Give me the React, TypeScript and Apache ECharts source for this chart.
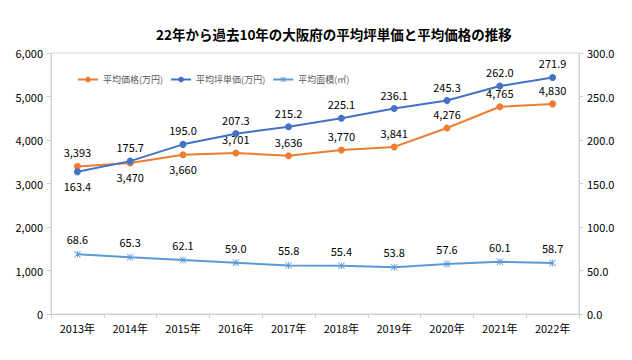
import React, { useEffect, useRef } from "react";
import * as echarts from "echarts";

const categories = ["2013年", "2014年", "2015年", "2016年", "2017年", "2018年", "2019年", "2020年", "2021年", "2022年"];
const avgPrice = [3393, 3470, 3660, 3701, 3636, 3770, 3841, 4276, 4765, 4830];
const avgTsubo = [163.4, 175.7, 195.0, 207.3, 215.2, 225.1, 236.1, 245.3, 262.0, 271.9];
const avgArea = [68.6, 65.3, 62.1, 59.0, 55.8, 55.4, 53.8, 57.6, 60.1, 58.7];
const priceLabelPos = ["top", "bottom", "bottom", "top", "top", "top", "top", "top", "top", "top"];
const tsuboLabelPos = ["bottom", "top", "top", "top", "top", "top", "top", "top", "top", "top"];

const FONT = "'Liberation Sans Narrow', 'Noto Sans CJK JP', sans-serif";
const STAR =
  "path://M4.4,0 L5.6,0 L5.6,10 L4.4,10 Z M0,0.8 L0.8,0 L10,9.2 L9.2,10 Z M9.2,0 L10,0.8 L0.8,10 L0,9.2 Z";

export default function App() {
  const ref = useRef<HTMLDivElement>(null);
  useEffect(() => {
    if (!ref.current) return;
    const chart = echarts.init(ref.current, null, { renderer: "svg" });
    const fmtComma = (v: number) => v.toLocaleString("en-US");
    const labelStyle = { color: "#000", fontSize: 11, fontFamily: FONT };
    chart.setOption({
      animation: false,
      backgroundColor: "#fff",
      title: {
        text: "22年から過去10年の大阪府の平均坪単価と平均価格の推移",
        left: 151,
        top: 22,
        textStyle: { fontSize: 13.5, fontWeight: "bold", color: "#000", fontFamily: "'Noto Sans CJK JP', sans-serif" },
      },
      legend: {
        left: 72,
        top: 70,
        itemWidth: 20,
        itemHeight: 7,
        itemGap: 7,
        textStyle: { fontSize: 9, color: "#595959", fontFamily: "'Noto Sans CJK JP', sans-serif" },
        data: ["平均価格(万円)", "平均坪単価(万円)", "平均面積(㎡)"],
      },
      grid: {
        left: 51,
        right: 53,
        top: 53,
        bottom: 46,
        show: true,
        borderColor: "#d9d9d9",
        borderWidth: 1,
      },
      xAxis: {
        type: "category",
        data: categories,
        boundaryGap: true,
        axisLine: { lineStyle: { color: "#d0d0d0" } },
        axisTick: { show: true, length: 4, lineStyle: { color: "#d0d0d0" } },
        axisLabel: { color: "#000", fontSize: 11, fontFamily: FONT, margin: 8 },
      },
      yAxis: [
        {
          type: "value",
          min: 0,
          max: 6000,
          interval: 1000,
          splitLine: { show: false },
          axisLine: { show: true, lineStyle: { color: "#d0d0d0" } },
          axisTick: { show: true, length: 4, lineStyle: { color: "#d0d0d0" } },
          axisLabel: { color: "#000", fontSize: 11, fontFamily: FONT, margin: 8, formatter: (v: number) => fmtComma(v) },
        },
        {
          type: "value",
          min: 0,
          max: 300,
          interval: 50,
          splitLine: { show: false },
          axisLine: { show: true, lineStyle: { color: "#d0d0d0" } },
          axisTick: { show: true, length: 4, lineStyle: { color: "#d0d0d0" } },
          axisLabel: { color: "#000", fontSize: 11, fontFamily: FONT, margin: 8, formatter: (v: number) => v.toFixed(1) },
        },
      ],
      series: [
        {
          name: "平均価格(万円)",
          type: "line",
          yAxisIndex: 0,
          data: avgPrice.map((v, i) => ({ value: v, label: { position: priceLabelPos[i] } })),
          symbol: "circle",
          symbolSize: 7,
          lineStyle: { color: "#ED7D31", width: 2 },
          itemStyle: { color: "#ED7D31" },
          label: { show: true, ...labelStyle, distance: 5, formatter: (p: any) => fmtComma(p.value) },
          z: 3,
        },
        {
          name: "平均坪単価(万円)",
          type: "line",
          yAxisIndex: 1,
          data: avgTsubo.map((v, i) => ({ value: v, label: { position: tsuboLabelPos[i] } })),
          symbol: "circle",
          symbolSize: 7,
          lineStyle: { color: "#4472C4", width: 2 },
          itemStyle: { color: "#4472C4" },
          label: { show: true, ...labelStyle, distance: 5, formatter: (p: any) => Number(p.value).toFixed(1) },
          z: 4,
        },
        {
          name: "平均面積(㎡)",
          type: "line",
          yAxisIndex: 1,
          data: avgArea,
          symbol: STAR,
          symbolSize: 7,
          lineStyle: { color: "#5B9BD5", width: 2 },
          itemStyle: { color: "#5B9BD5" },
          label: { show: true, position: "top", ...labelStyle, distance: 6, formatter: (p: any) => Number(p.value).toFixed(1) },
          z: 2,
        },
      ],
    });
    return () => chart.dispose();
  }, []);
  return <div ref={ref} style={{ width: 632, height: 360, position: "absolute", left: 0, top: 0 }} />;
}
